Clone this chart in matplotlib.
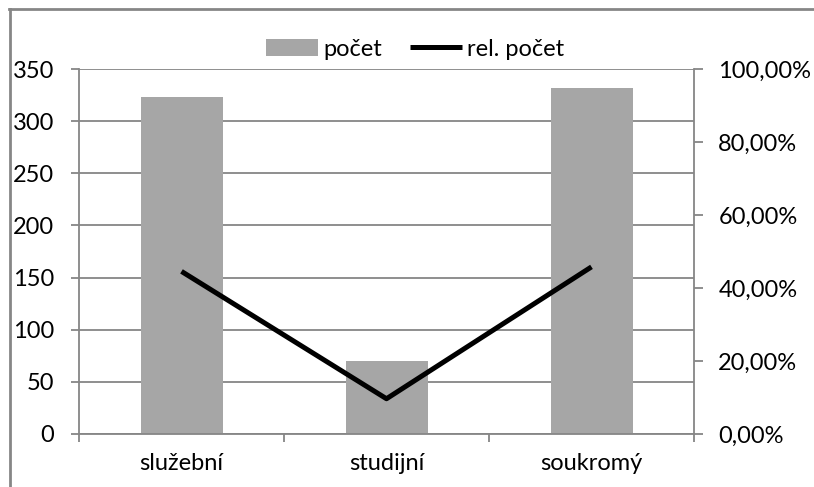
import numpy as np
import matplotlib
matplotlib.use("Agg")
import matplotlib.pyplot as plt
from matplotlib.lines import Line2D
from matplotlib.ticker import FuncFormatter, FixedLocator

# data
categories = ["služební", "studijní", "soukromý"]
counts = [323, 70, 332]
rel_counts = [44.55, 9.66, 45.79]  # percent

plt.rcParams['font.family'] = ['Lato', 'DejaVu Sans']
plt.rcParams['font.size'] = 17

grey = "#868686"
fig = plt.figure(figsize=(8.14, 4.87), dpi=100)
ax = fig.add_axes([79/814, 53/487, 615/814, 365/487])
ax2 = ax.twinx()

x = np.arange(len(categories))
bars = ax.bar(x, counts, width=0.4, color="#A6A6A6", label="počet", zorder=2)
line, = ax2.plot(x, rel_counts, color="black", linewidth=3.6, label="rel. počet",
                 solid_joinstyle="round", solid_capstyle="butt", zorder=3)

ax.set_xlim(-0.5, 2.5)
ax.set_ylim(0, 350)
ax.set_yticks(np.arange(0, 351, 50))
ax.yaxis.grid(True, color=grey, linewidth=1.3, zorder=0)
ax.set_axisbelow(True)
ax2.set_ylim(0, 100)
ax2.set_yticks(np.arange(0, 101, 20))
ax2.yaxis.set_major_formatter(FuncFormatter(lambda v, _: f"{v:.2f}".replace(".", ",") + "%"))

# category labels at centres, tick marks at boundaries
ax.set_xticks(x)
ax.set_xticklabels(categories)
ax.tick_params(axis="x", which="major", length=0, pad=14)
ax.xaxis.set_minor_locator(FixedLocator([-0.5, 0.5, 1.5, 2.5]))
ax.tick_params(axis="x", which="minor", length=5.8, width=1.3, color=grey, direction="out")
ax.tick_params(axis="y", length=5.8, width=1.3, color=grey, direction="out", pad=12)
ax2.tick_params(axis="y", length=6.5, width=1.3, color=grey, direction="out", pad=11)

for a in (ax, ax2):
    for s in a.spines.values():
        s.set_visible(False)
for s in (ax.spines["left"], ax.spines["bottom"], ax2.spines["right"]):
    s.set_visible(True)
    s.set_color(grey)
    s.set_linewidth(1.3)

fig.legend([bars, line], ["počet", "rel. počet"], loc="center", bbox_to_anchor=(415/814, 1 - 49/487),
           ncol=2, frameon=False, handlelength=2.2, handletextpad=0.2, columnspacing=1.2,
           fontsize=17)

# chart border (top and left only, picture is cropped)
fig.add_artist(Line2D([9/814, 1], [1 - 9/487, 1 - 9/487], color=grey, linewidth=2))
fig.add_artist(Line2D([9.5/814, 9.5/814], [0, 1 - 9/487], color=grey, linewidth=2))

fig.savefig("out.png", dpi=100)
